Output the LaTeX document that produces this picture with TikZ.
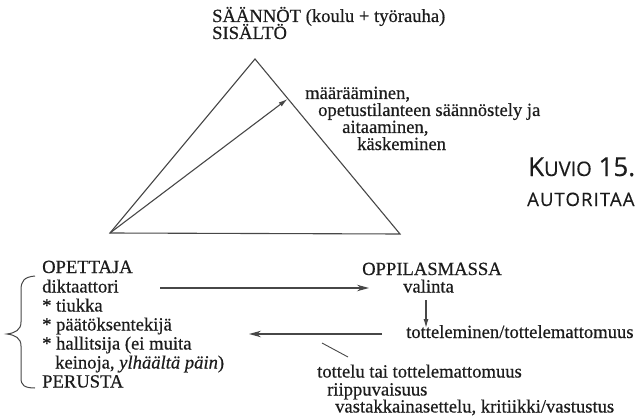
\documentclass[tikz,border=0pt]{standalone}
\usepackage{fontspec}
\setmainfont{Liberation Serif}[FakeBold=0.5]
\newfontfamily\capfont{Open Sans}[FakeBold=0.4]
\newfontfamily\capwide{Open Sans}[FakeBold=0.4,LetterSpace=6]
\usetikzlibrary{arrows.meta}
\definecolor{ink}{HTML}{1C1C1C}
\definecolor{rule}{HTML}{474747}
\begin{document}
\begin{tikzpicture}[x=1pt,y=-1pt,
  txt/.style={anchor=base west,inner sep=0pt,text=ink,font=\fontsize{18.6}{20}\selectfont},
  captext/.style={anchor=base west,inner sep=0pt,text=ink},
  edge/.style={draw=rule,line width=1.1pt},
  flow/.style={edge,-{Stealth[length=12pt,width=6.5pt]}},
  pointer/.style={edge,-{Latex[length=9pt,width=5pt]}}]
\useasboundingbox (0,0) rectangle (640,417);

% triangle: rules, teacher, pupils
\coordinate (apex) at (255,59);
\coordinate (teacher) at (110,233);
\coordinate (pupils) at (400,234);
\coordinate (hit) at (287.5,99);
\draw[edge,line join=miter] (teacher) -- (apex) -- (pupils) -- cycle;
\draw[pointer] (teacher) -- (hit);

% top label
\node[txt] (rules) at (212,22) {SÄÄNNÖT (koulu + työrauha)};
\node[txt] (content) at (212,39) {SISÄLTÖ};

% label on the right side
\node[txt] (m1) at (305,99) {määrääminen,};
\node[txt] (m2) at (318,116) {opetustilanteen säännöstely ja};
\node[txt] (m3) at (342,133) {aitaaminen,};
\node[txt] (m4) at (357,150) {käskeminen};

% figure caption
\node[captext] (fig) at (528,176) {\capfont\fontsize{26}{28}\selectfont K\fontsize{20}{22}\selectfont UVIO\fontsize{26}{28}\selectfont\ 15.};
\node[captext] (figtitle) at (527,206) {\capwide\fontsize{18.5}{20}\selectfont AUTORITAA};

% teacher column
\node[txt] (o1) at (42,273) {OPETTAJA};
\node[txt] (o2) at (42,292.5) {diktaattori};
\node[txt] (o3) at (42,311.5) {* tiukka};
\node[txt] (o4) at (42,330.5) {* päätöksentekijä};
\node[txt] (o5) at (42,349.5) {* hallitsija (ei muita};
\node[txt] (o6) at (55,368.5) {keinoja, \textit{ylhäältä päin})};
\node[txt] (o7) at (42,387.5) {PERUSTA};

% brace
\draw[edge,line width=1pt] (35,276) .. controls (24,277) and (21,281) .. (21,290)
  -- (21,322) .. controls (21,330) and (15,333) .. (7,334)
  .. controls (15,335) and (21,338) .. (21,346)
  -- (21,378) .. controls (21,385) and (24,388) .. (35,388);

% pupils column
\node[txt] (p1) at (362,275) {OPPILASMASSA};
\node[txt] (p2) at (403,292.5) {valinta};
\node[txt] (p3) at (406,338) {totteleminen/tottelemattomuus};
\node[txt] (p4) at (317,377.5) {tottelu tai tottelemattomuus};
\node[txt] (p5) at (327,395.5) {riippuvaisuus};
\node[txt] (p6) at (335,412.5) {vastakkainasettelu, kritiikki/vastustus};

% connectors
\coordinate (f1) at (160,288);
\coordinate (f2) at (369,288);
\draw[flow] (f1) -- (f2);
\coordinate (b1) at (382,334);
\coordinate (b2) at (249,334);
\draw[flow] (b1) -- (b2);
\coordinate (d1) at (426,300);
\coordinate (d2) at (426,328);
\draw[pointer] (d1) -- (d2);
\coordinate (s1) at (322,343);
\coordinate (s2) at (348,357);
\draw[edge,line width=0.9pt] (s1) -- (s2);
\end{tikzpicture}
\end{document}
